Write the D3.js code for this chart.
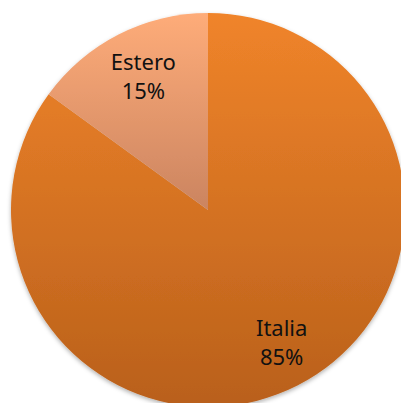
<!DOCTYPE html>
<html>
<head>
<meta charset="utf-8">
<script src="https://cdn.jsdelivr.net/npm/d3@7"></script>
<style>
  html, body { margin: 0; padding: 0; background: #fff; overflow: hidden; }
  text { font-family: "Noto Sans", "DejaVu Sans", sans-serif; }
</style>
</head>
<body>
<svg id="chart"></svg>
<script>
const width = 401;
const height = 403;

// Data
const categories = ["Italia", "Estero"];
const values = [85, 15];
const labels = ["85%", "15%"];

// Top / bottom colours of each slice gradient
const topColors = ["#f0842a", "#feac79"];
const bottomColors = ["#b9601b", "#cb8460"];

const cx = 208, cy = 210, radius = 197;

const svg = d3.select("#chart")
    .attr("width", width)
    .attr("height", height);

const defs = svg.append("defs");

// soft shadow round the pie
const shadow = defs.append("filter")
    .attr("id", "shadow")
    .attr("x", "-10%").attr("y", "-10%")
    .attr("width", "120%").attr("height", "120%");
shadow.append("feDropShadow")
    .attr("dx", 0).attr("dy", 2)
    .attr("stdDeviation", 2)
    .attr("flood-color", "#000")
    .attr("flood-opacity", 0.3);

// vertical gradients per slice (coordinates are local to the pie group)
categories.forEach((c, i) => {
    const grad = defs.append("linearGradient")
        .attr("id", "grad-" + i)
        .attr("gradientUnits", "userSpaceOnUse")
        .attr("x1", 0).attr("x2", 0)
        .attr("y1", -radius)
        .attr("y2", i === 0 ? radius : 0);
    grad.append("stop").attr("offset", "0%").attr("stop-color", topColors[i]);
    grad.append("stop").attr("offset", "100%").attr("stop-color", bottomColors[i]);
});

const pie = d3.pie().sort(null).value(d => d);
const arcs = pie(values);

const arc = d3.arc().innerRadius(0).outerRadius(radius);
const labelArc = d3.arc().innerRadius(149).outerRadius(149);

const g = svg.append("g")
    .attr("transform", `translate(${cx},${cy})`);

g.append("g")
    .attr("filter", "url(#shadow)")
    .selectAll("path")
    .data(arcs)
    .join("path")
    .attr("d", arc)
    .attr("fill", (d, i) => `url(#grad-${i})`);

const label = g.selectAll("text.label")
    .data(arcs)
    .join("text")
    .attr("class", "label")
    .attr("text-anchor", "middle")
    .attr("font-size", 22)
    .attr("fill", "#111")
    .attr("transform", (d, i) => {
        const [x, y] = labelArc.centroid(d);
        return `translate(${x + (i === 0 ? 6 : 3)},${y})`;
    });

label.append("tspan")
    .attr("x", 0)
    .attr("y", -7)
    .text((d, i) => categories[i]);

label.append("tspan")
    .attr("x", 0)
    .attr("y", 22)
    .text((d, i) => labels[i]);
</script>
</body>
</html>
